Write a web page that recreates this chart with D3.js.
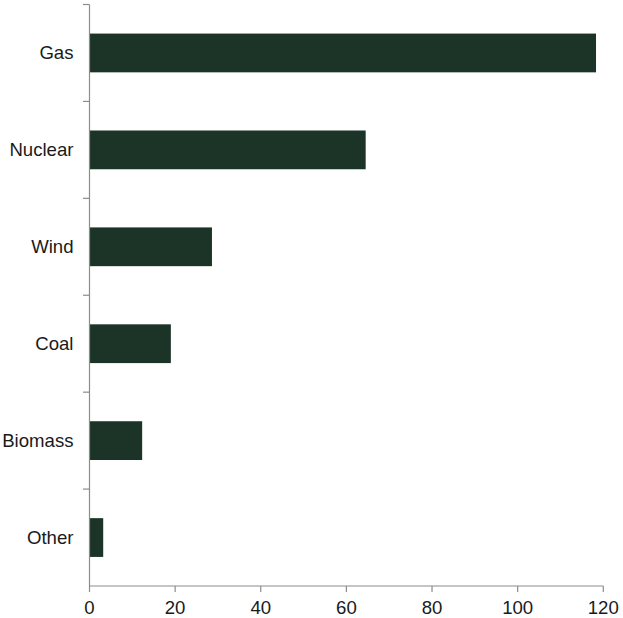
<!DOCTYPE html>
<html><head><meta charset="utf-8">
<script src="https://cdn.jsdelivr.net/npm/d3@7"></script>
<style>body{margin:0;background:#fff}svg{display:block}text{font-family:"Liberation Sans",Arial,sans-serif}</style>
</head><body>
<svg id="c" width="623" height="618"></svg>
<script>
const categories = ["Gas","Nuclear","Wind","Coal","Biomass","Other"];
const values = [118.3, 64.5, 28.6, 19.0, 12.3, 3.2];
const xTicks = [0,20,40,60,80,100,120];

const svg = d3.select("#c");
const x = d3.scaleLinear().domain([0,120]).range([89.5,603.3]);
const y = d3.scaleBand().domain(categories).range([4.5,586]).paddingInner(0.6).paddingOuter(0.3);

svg.selectAll("rect.bar").data(categories).join("rect")
  .attr("class","bar")
  .attr("x", x(0))
  .attr("y", d=>y(d))
  .attr("width", (d,i)=>x(values[i])-x(0))
  .attr("height", y.bandwidth())
  .attr("fill","#1c3328");

// y axis
const axisColor = "#8c8c8c";
const step = y.step();
const bandEdges = d3.range(categories.length+1).map(i=>4.5 + i*step);
svg.append("line").attr("x1",89.5).attr("x2",89.5).attr("y1",4.5).attr("y2",586).attr("stroke",axisColor).attr("stroke-width",1.2);
svg.selectAll("line.yt").data(bandEdges.slice(0,-1)).join("line").attr("class","yt")
  .attr("x1",83).attr("x2",89.5).attr("y1",d=>d).attr("y2",d=>d).attr("stroke",axisColor).attr("stroke-width",1.2);
svg.selectAll("text.yl").data(categories).join("text").attr("class","yl")
  .attr("x",73.5).attr("y",d=>y(d)+y.bandwidth()/2).attr("dy","0.35em")
  .attr("text-anchor","end").attr("font-size",18.6).attr("fill","#1a1a1a").text(d=>d);

// x axis
svg.append("line").attr("x1",89.5).attr("x2",603.3).attr("y1",586).attr("y2",586).attr("stroke",axisColor).attr("stroke-width",1.2);
svg.selectAll("line.xt").data(xTicks).join("line").attr("class","xt")
  .attr("x1",d=>x(d)).attr("x2",d=>x(d)).attr("y1",586).attr("y2",592).attr("stroke",axisColor).attr("stroke-width",1.2);
svg.selectAll("text.xl").data(xTicks).join("text").attr("class","xl")
  .attr("x",d=>x(d)).attr("y",613.5)
  .attr("text-anchor","middle").attr("font-size",18.6).attr("fill","#1a1a1a").text(d=>d);
</script>
</body></html>
